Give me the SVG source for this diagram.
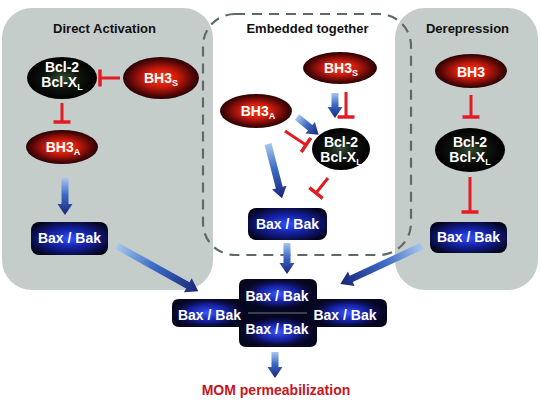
<svg xmlns="http://www.w3.org/2000/svg" width="540" height="402" viewBox="0 0 540 402">
<style>
.t{font-family:"Liberation Sans",Arial,sans-serif;font-weight:bold;}
.title{font-size:13px;fill:#111;text-anchor:middle;}
.nt{font-size:14px;fill:#fff;text-anchor:middle;}
.sub{font-size:9px;}
.inh{stroke:#e31b23;stroke-width:3;fill:none;marker-end:url(#tee);}
.arr{fill:url(#ag);}
.red{fill:url(#rg);}
.blk{fill:url(#kg);}
.box{fill:url(#bg);}
</style>
<defs>
<marker id="tee" markerUnits="userSpaceOnUse" markerWidth="4" markerHeight="18" viewBox="0 -9 4 18" refX="2" refY="0" orient="auto">
<path d="M2,-8.5 V8.5" stroke="#e31b23" stroke-width="3.5"/>
</marker>
<linearGradient id="ag" x1="0" y1="0" x2="1" y2="0">
<stop offset="0" stop-color="#a8c6ee"/>
<stop offset="0.45" stop-color="#3d6cc6"/>
<stop offset="1" stop-color="#1a2478"/>
</linearGradient>
<radialGradient id="rg" cx="0.5" cy="0.5" r="0.5">
<stop offset="0" stop-color="#ff3a14"/>
<stop offset="0.45" stop-color="#c81a0c"/>
<stop offset="0.85" stop-color="#500606"/>
<stop offset="1" stop-color="#2a0303"/>
</radialGradient>
<radialGradient id="kg" cx="0.5" cy="0.5" r="0.5">
<stop offset="0" stop-color="#324a32"/>
<stop offset="0.5" stop-color="#0e140e"/>
<stop offset="1" stop-color="#000"/>
</radialGradient>
<radialGradient id="bg" cx="0.5" cy="0.5" r="0.6">
<stop offset="0" stop-color="#3050ff"/>
<stop offset="0.45" stop-color="#1522a8"/>
<stop offset="1" stop-color="#04041a"/>
</radialGradient>
<radialGradient id="glow" cx="0.5" cy="0.5" r="0.5">
<stop offset="0" stop-color="#3a58ff" stop-opacity="1"/>
<stop offset="0.5" stop-color="#1a28c8" stop-opacity="0.75"/>
<stop offset="1" stop-color="#050520" stop-opacity="0"/>
</radialGradient>
<clipPath id="crossclip">
<path d="M246,279 H310 Q317,279 317,286 V299 H380 Q387,299 387,306 V320 Q387,327 380,327 H317 V340 Q317,347 310,347 H246 Q239,347 239,340 V327 H179 Q172,327 172,320 V306 Q172,299 179,299 H239 V286 Q239,279 246,279 Z"/>
</clipPath>
</defs>

<rect width="540" height="402" fill="#fff"/>

<g id="panels">
<rect id="panel-direct" x="2" y="8" width="211" height="282" rx="30" fill="#c5cdcb"/>
<rect id="panel-derepression" x="395" y="8" width="143" height="282" rx="30" fill="#c5cdcb"/>
<rect id="panel-embedded" x="203" y="14" width="208" height="241" rx="32" fill="none" stroke="#5f686a" stroke-width="2.2" stroke-dasharray="10 7"/>
</g>

<g id="titles" class="t">
<text class="title" x="104.5" y="33">Direct Activation</text>
<text class="title" x="307.5" y="33">Embedded together</text>
<text class="title" x="467.5" y="33">Derepression</text>
</g>

<g id="connectors">
<path class="arr" transform="translate(65,178) rotate(90)" d="M0,-3.5 H26 V-7.5 L37,0 L26,7.5 V3.5 H0 Z"/>
<path class="arr" transform="translate(117,246) rotate(29.05)" d="M0,-3.5 H81 V-8 L93,0 L81,8 V3.5 H0 Z"/>
<path class="arr" transform="translate(335,93) rotate(90)" d="M0,-3.5 H14 V-7.5 L25,0 L14,7.5 V3.5 H0 Z"/>
<path class="arr" transform="translate(297,117) rotate(39.3)" d="M0,-3.5 H17 V-7.5 L28,0 L17,7.5 V3.5 H0 Z"/>
<path class="arr" transform="translate(268,144) rotate(75.5)" d="M0,-3.5 H45 V-7.5 L56,0 L45,7.5 V3.5 H0 Z"/>
<path class="arr" transform="translate(287,243) rotate(90)" d="M0,-3.5 H20 V-7.5 L31,0 L20,7.5 V3.5 H0 Z"/>
<path class="arr" transform="translate(422,246) rotate(155.1)" d="M0,-3.5 H78 V-8 L90,0 L78,8 V3.5 H0 Z"/>
<path class="arr" transform="translate(275,352) rotate(90)" d="M0,-3.5 H15 V-7.5 L26,0 L15,7.5 V3.5 H0 Z"/>
<line class="inh" x1="120" y1="78" x2="100" y2="78"/>
<line class="inh" x1="62" y1="103" x2="62" y2="122"/>
<line class="inh" x1="346" y1="92" x2="346" y2="117"/>
<line class="inh" x1="285" y1="131" x2="306" y2="145"/>
<line class="inh" x1="328" y1="178" x2="316" y2="193"/>
<line class="inh" x1="471" y1="95" x2="471" y2="117"/>
<line class="inh" x1="470" y1="177" x2="470" y2="212"/>
</g>

<g id="da-bcl2" class="t">
<ellipse class="blk" cx="62" cy="78" rx="35" ry="21"/>
<text class="nt" x="62" y="72">Bcl-2</text>
<text class="nt" x="62" y="87">Bcl-X<tspan class="sub" dy="3">L</tspan></text>
</g>
<g id="da-bh3s" class="t">
<ellipse class="red" cx="161" cy="78" rx="38" ry="21"/>
<text class="nt" x="161" y="83">BH3<tspan class="sub" dy="3">S</tspan></text>
</g>
<g id="da-bh3a" class="t">
<ellipse class="red" cx="62" cy="147" rx="36" ry="17"/>
<text class="nt" x="63" y="152">BH3<tspan class="sub" dy="3">A</tspan></text>
</g>
<g id="da-bax" class="t">
<rect class="box" x="31" y="222" width="77" height="33" rx="8"/>
<text class="nt" x="69.5" y="243">Bax / Bak</text>
</g>

<g id="em-bh3s" class="t">
<ellipse class="red" cx="340" cy="68" rx="37" ry="16"/>
<text class="nt" x="341" y="73">BH3<tspan class="sub" dy="3">S</tspan></text>
</g>
<g id="em-bh3a" class="t">
<ellipse class="red" cx="256" cy="111" rx="36" ry="17"/>
<text class="nt" x="258" y="116">BH3<tspan class="sub" dy="3">A</tspan></text>
</g>
<g id="em-bcl2" class="t">
<ellipse class="blk" cx="341" cy="149" rx="29" ry="21"/>
<text class="nt" x="341" y="147">Bcl-2</text>
<text class="nt" x="341" y="162">Bcl-X<tspan class="sub" dy="3">L</tspan></text>
</g>
<g id="em-bax" class="t">
<rect class="box" x="248" y="208" width="79" height="32" rx="8"/>
<text class="nt" x="287.5" y="229">Bax / Bak</text>
</g>

<g id="de-bh3" class="t">
<ellipse class="red" cx="471" cy="71" rx="36" ry="17"/>
<text class="nt" x="471" y="77">BH3</text>
</g>
<g id="de-bcl2" class="t">
<ellipse class="blk" cx="470" cy="150" rx="35" ry="22"/>
<text class="nt" x="470" y="147">Bcl-2</text>
<text class="nt" x="470" y="162">Bcl-X<tspan class="sub" dy="3">L</tspan></text>
</g>
<g id="de-bax" class="t">
<rect class="box" x="430" y="222" width="77" height="31" rx="8"/>
<text class="nt" x="468.5" y="242">Bax / Bak</text>
</g>

<g id="pore" class="t">
<path fill="#06061e" d="M246,279 H310 Q317,279 317,286 V299 H380 Q387,299 387,306 V320 Q387,327 380,327 H317 V340 Q317,347 310,347 H246 Q239,347 239,340 V327 H179 Q172,327 172,320 V306 Q172,299 179,299 H239 V286 Q239,279 246,279 Z"/>
<g clip-path="url(#crossclip)">
<ellipse cx="278" cy="294" rx="40" ry="17" fill="url(#glow)"/>
<ellipse cx="278" cy="332" rx="40" ry="17" fill="url(#glow)"/>
<ellipse cx="208" cy="313" rx="40" ry="17" fill="url(#glow)"/>
<ellipse cx="348" cy="313" rx="40" ry="17" fill="url(#glow)"/>
</g>
<line x1="248" y1="313" x2="307" y2="313" stroke="#8a96a8" stroke-width="0.8"/>
<text class="nt" x="277" y="301">Bax / Bak</text>
<text class="nt" x="277" y="334">Bax / Bak</text>
<text class="nt" x="209.5" y="320">Bax / Bak</text>
<text class="nt" x="345" y="320">Bax / Bak</text>
</g>

<g id="mom" class="t">
<text x="276" y="395" font-size="14" fill="#c8141c" text-anchor="middle">MOM permeabilization</text>
</g>
</svg>
